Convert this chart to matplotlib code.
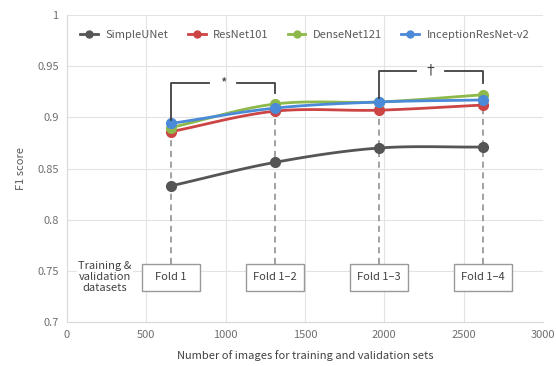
import numpy as np
import matplotlib
matplotlib.use("Agg")
import matplotlib.pyplot as plt
from matplotlib.patches import Rectangle

plt.rcParams['font.family'] = ['Noto Sans CJK KR', 'DejaVu Sans']

n_images = [655, 1310, 1965, 2620]
fold_labels = ["Fold 1", "Fold 1\u20132", "Fold 1\u20133", "Fold 1\u20134"]
series_names = ["SimpleUNet", "ResNet101", "DenseNet121", "InceptionResNet-v2"]
simpleunet = [0.833, 0.856, 0.870, 0.871]
resnet101 = [0.886, 0.906, 0.907, 0.912]
densenet121 = [0.890, 0.913, 0.915, 0.922]
inception = [0.894, 0.909, 0.915, 0.917]
colors = ["#555555", "#cc4444", "#8db84a", "#4a8ad8"]

def smooth(x, y, n=30):
    x = np.asarray(x, float); y = np.asarray(y, float)
    P = np.column_stack([x, y])
    P = np.vstack([2*P[0]-P[1], P, 2*P[-1]-P[-2]])
    out = []
    for i in range(1, len(P)-2):
        p0, p1, p2, p3 = P[i-1], P[i], P[i+1], P[i+2]
        t = np.linspace(0, 1, n)[:, None]
        c = 0.5*((2*p1) + (-p0+p2)*t + (2*p0-5*p1+4*p2-p3)*t**2 + (-p0+3*p1-3*p2+p3)*t**3)
        out.append(c)
    c = np.vstack(out)
    return c[:, 0], c[:, 1]

fig = plt.figure(figsize=(5.56, 3.66), dpi=100)
ax = fig.add_axes([0.1205, 0.1202, 0.8561, 0.8388])
ax.set_xlim(0, 3000)
ax.set_ylim(0.7, 1.0)
ax.set_xticks(np.arange(0, 3001, 500))
ax.set_yticks([0.7, 0.75, 0.8, 0.85, 0.9, 0.95, 1.0])
ax.set_yticklabels(["0.7", "0.75", "0.8", "0.85", "0.9", "0.95", "1"])
ax.grid(True, color="#e3e3e3", lw=0.8)
ax.set_axisbelow(True)
for s in ax.spines.values():
    s.set_color("#d9d9d9")
    s.set_linewidth(0.8)
ax.spines['top'].set_visible(False)
ax.spines['right'].set_visible(False)
ax.tick_params(length=0, labelsize=8, colors="#6f6f6f", pad=6)
ax.set_xlabel("Number of images for training and validation sets", fontsize=8, color="#404040", labelpad=7)
ax.set_ylabel("F1 score", fontsize=8, color="#595959", labelpad=8)

# dashed guide lines from top point down to fold boxes
tops = [max(a, b, c, d) for a, b, c, d in zip(simpleunet, resnet101, densenet121, inception)]
for xv, tv in zip(n_images, tops):
    ax.plot([xv, xv], [0.757, tv], ls=(0, (4, 3)), color="#888888", lw=1.1, zorder=1)

for name, vals, col in zip(series_names, [simpleunet, resnet101, densenet121, inception], colors):
    sx, sy = smooth(n_images, vals)
    ax.plot(sx, sy, color=col, lw=2, zorder=3)
    ax.plot(n_images, vals, 'o', color=col, ms=7, zorder=4)
    ax.plot([], [], '-o', color=col, lw=2, ms=5, label=name)

leg = ax.legend(loc="upper center", ncol=4, frameon=False, fontsize=8, bbox_to_anchor=(0.5, 0.985),
                handlelength=1.6, columnspacing=1.7, handletextpad=0.7)
for t in leg.get_texts():
    t.set_color("#595959")

# fold boxes
for xv, lab in zip(n_images, fold_labels):
    ax.add_patch(Rectangle((xv-183, 0.7305), 366, 0.0265, facecolor="white", edgecolor="#999999", lw=1, zorder=5))
    ax.text(xv, 0.7437, lab, ha="center", va="center", fontsize=8, color="#404040", zorder=6)
ax.text(240, 0.7437, "Training &\nvalidation\ndatasets", ha="center", va="center", fontsize=8,
        color="#404040", linespacing=1.15, zorder=6,
        bbox=dict(facecolor="white", edgecolor="none", pad=1))

# significance brackets
def bracket(x1, x2, y, y1, y2, label):
    xm = (x1 + x2) / 2
    gap = 90
    kw = dict(color="#404040", lw=1.3, zorder=6)
    ax.plot([x1, x1, xm-gap], [y1, y, y], **kw)
    ax.plot([xm+gap, x2, x2], [y, y, y2], **kw)
    ax.text(xm, y, label, ha="center", va="center", fontsize=10, color="#404040", zorder=6)

bracket(n_images[0], n_images[1], 0.9335, 0.897, 0.924, "*")
bracket(n_images[2], n_images[3], 0.9455, 0.919, 0.934, "\u2020")

fig.savefig("out.png", dpi=100)
